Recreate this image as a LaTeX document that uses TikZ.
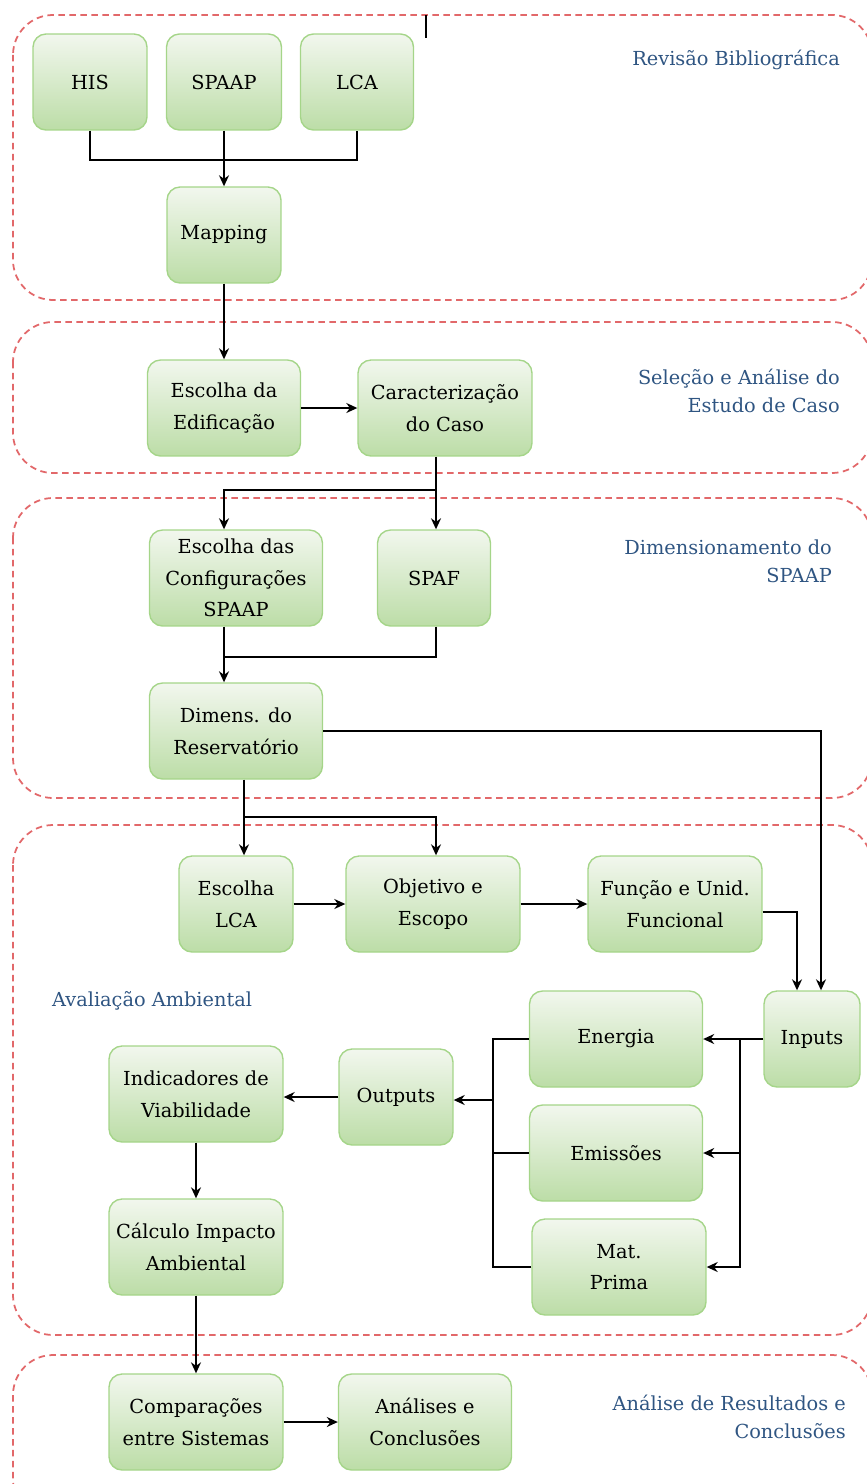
\documentclass[tikz,border=0pt]{standalone}
\usepackage{fontspec}
\setmainfont{DejaVu Serif}
\usepackage{tikz}
\usetikzlibrary{positioning, shapes.misc, arrows.meta}
\definecolor{verdeTopo}{RGB}{242,247,238}
\definecolor{verdeBase}{RGB}{188,221,167}
\definecolor{verdeBorda}{RGB}{165,213,137}
\definecolor{tracejado}{RGB}{226,104,106}
\definecolor{azulTitulo}{RGB}{47,85,130}
\tikzstyle{etapa} = [rectangle, rounded corners=0.26cm, minimum height=1.92cm, text centered, align=center, draw=verdeBorda, line width=0.8pt, top color=verdeTopo, bottom color=verdeBase, inner sep=1pt, font=\fontsize{11}{18}\selectfont]
\tikzstyle{grupo} = [draw=tracejado, dash pattern=on 0.13cm off 0.09cm, line width=1pt, rounded corners=0.8cm]
\tikzstyle{titulo} = [text=azulTitulo, align=right, font=\fontsize{11}{16}\selectfont]
\tikzstyle{arrow} = [line width=1pt,->,>={Stealth[length=2.2mm, width=2mm]}]
\tikzstyle{link} = [line width=1pt]

\begin{document}
\begin{tikzpicture}[x=0.02cm, y=-0.02cm]
\useasboundingbox (0,0) rectangle (866,1484);

% grupos
\draw [grupo] (13,15) rectangle (872,300);
\draw [grupo] (13,322) rectangle (872,473);
\draw [grupo] (13,498) rectangle (872,798);
\draw [grupo] (13,825) rectangle (872,1335);
\draw [grupo] (13,1355) rectangle (872,1520);
\draw [line width=1pt] (426,15) -- (426,38);

\node [titulo, anchor=east] at (846,60) {Revisão Bibliográfica};
\node [titulo, anchor=east] at (846,391) {Seleção e Análise do\\Estudo de Caso};
\node [titulo, anchor=east] at (838,561) {Dimensionamento do\\SPAAP};
\node [titulo, anchor=west] at (46,1001) {Avaliação Ambiental};
\node [titulo, anchor=east] at (852,1417) {Análise de Resultados e\\Conclusões};

% revisao
\node (his) [etapa, minimum width=2.28cm] at (90,82) {HIS};
\node (spaap) [etapa, minimum width=2.30cm] at (224,82) {SPAAP};
\node (lca) [etapa, minimum width=2.26cm] at (357,82) {LCA};
\node (mapping) [etapa, minimum width=2.28cm] at (224,235) {Mapping};
\coordinate (k1) at (224,160);
\draw [link] (his) |- (k1) -| (lca);
\draw [arrow] (spaap) -- (mapping);

% estudo de caso
\node (edif) [etapa, minimum width=3.06cm] at (224,408) {Escolha da\\Edificação};
\node (carac) [etapa, minimum width=3.48cm] at (445,408) {Caracterização\\do Caso};
\draw [arrow] (mapping) -- (edif);
\draw [arrow] (edif) -- (carac);

% dimensionamento
\node (config) [etapa, minimum width=3.46cm] at (236,578) {Escolha das\\Configurações\\SPAAP};
\node (spaf) [etapa, minimum width=2.26cm] at (434,578) {SPAF};
\node (dimens) [etapa, minimum width=3.46cm] at (236,731) {Dimens. do\\Reservatório};
\coordinate (k2) at (436,490);
\coordinate (k3) at (224,657);
\draw [link] (carac.south -| k2) -- (k2);
\draw [arrow] (k2) -| (config.north -| k1);
\draw [arrow] (k2) -- (spaf.north -| k2);
\draw [arrow] (config.south -| k3) -- (dimens.north -| k3);
\draw [link] (spaf.south -| k2) |- (k3);

% avaliacao ambiental
\node (esclca) [etapa, minimum width=2.28cm] at (236,904) {Escolha\\LCA};
\node (objetivo) [etapa, minimum width=3.48cm] at (433,904) {Objetivo e\\Escopo};
\node (funcao) [etapa, minimum width=3.48cm] at (675,904) {Função e Unid.\\Funcional};
\node (inputs) [etapa, minimum width=1.92cm] at (812,1039) {Inputs};
\node (energia) [etapa, minimum width=3.46cm] at (616,1039) {Energia};
\node (emissoes) [etapa, minimum width=3.46cm] at (616,1153) {Emissões};
\node (matprima) [etapa, minimum width=3.48cm] at (619,1267) {Mat.\\Prima};
\node (outputs) [etapa, minimum width=2.28cm] at (396,1097) {Outputs};
\node (indic) [etapa, minimum width=3.48cm] at (196,1094) {Indicadores de\\Viabilidade};
\node (calculo) [etapa, minimum width=3.48cm] at (196,1247) {Cálculo Impacto\\Ambiental};

\coordinate (k4) at (244,817);
\coordinate (k5) at (821,730);
\coordinate (k6) at (797,912);
\coordinate (k7) at (740,1039);
\coordinate (k8) at (493,1100);
\draw [arrow] (dimens.east) -| (inputs.north -| k5);
\draw [link] (dimens.south -| k4) -- (k4);
\draw [arrow] (k4) -- (esclca.north -| k4);
\draw [arrow] (k4) -| (objetivo.north -| k2);
\draw [arrow] (esclca) -- (objetivo);
\draw [arrow] (objetivo) -- (funcao);
\draw [arrow] (funcao.east |- k6) -| (inputs.north -| k6);
\draw [arrow, line width=1.6pt] (inputs.west) -- (energia.east);
\draw [arrow] (k7) |- (emissoes.east);
\draw [arrow] (k7) |- (matprima.east);
\draw [link] (energia.west) -| (k8);
\draw [link] (matprima.west) -| (k8);
\draw [link] (emissoes.west) -- (emissoes.west -| k8);
\draw [arrow] (k8) -- (k8 -| outputs.east);
\draw [arrow] (outputs) -- (outputs.west -| indic.east);
\draw [arrow] (indic) -- (calculo);

% resultados
\node (compar) [etapa, minimum width=3.48cm] at (196,1422) {Comparações\\entre Sistemas};
\node (analises) [etapa, minimum width=3.46cm] at (425,1422) {Análises e\\Conclusões};
\draw [arrow] (calculo) -- (compar);
\draw [arrow] (compar) -- (analises);

\end{tikzpicture}
\end{document}
